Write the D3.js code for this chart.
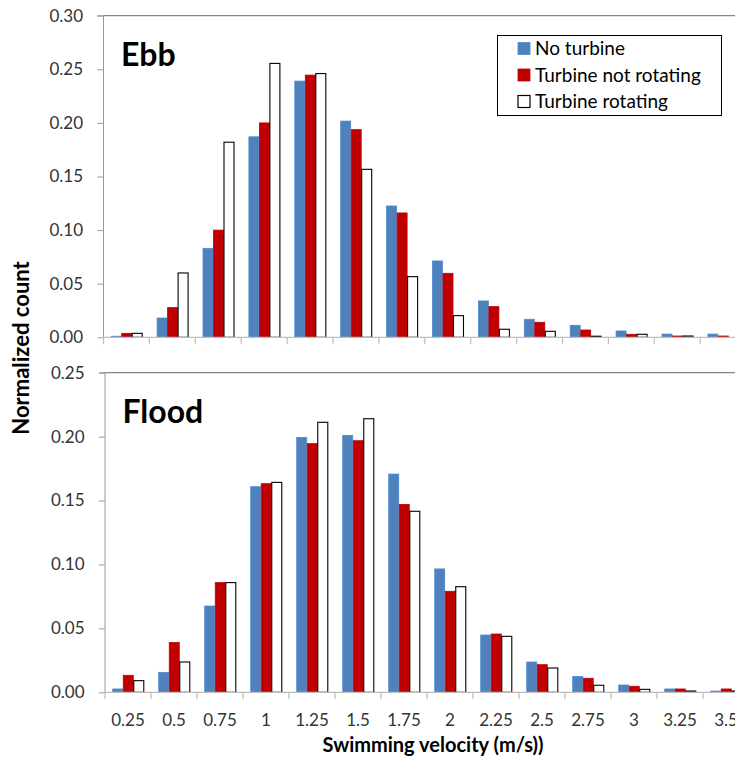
<!DOCTYPE html>
<html>
<head>
<meta charset="utf-8">
<script src="https://cdn.jsdelivr.net/npm/d3@7"></script>
<style>
  html, body { margin: 0; padding: 0; background: #fff; }
  svg { display: block; font-family: Lato, "Open Sans", sans-serif; }
</style>
</head>
<body>
<svg id="chart" width="735" height="766"></svg>
<script>
const categories = ["0.25","0.5","0.75","1","1.25","1.5","1.75","2","2.25","2.5","2.75","3","3.25","3.5"];
const seriesNames = ["No turbine","Turbine not rotating","Turbine rotating"];

const ebbNoTurbine   = [0.001,0.018,0.083,0.187,0.239,0.2017,0.1225,0.0712,0.0339,0.0168,0.0112,0.0059,0.003,0.003];
const ebbNotRotating = [0.0037,0.0277,0.100,0.200,0.2446,0.1937,0.116,0.0597,0.0286,0.014,0.0068,0.0028,0.0012,0.0012];
const ebbRotating    = [0.0037,0.060,0.182,0.2555,0.246,0.1567,0.0566,0.0202,0.0075,0.0056,0.001,0.0028,0.0012,0];

const floodNoTurbine   = [0.0026,0.0156,0.0675,0.1608,0.1994,0.201,0.1707,0.0965,0.0448,0.0237,0.0123,0.0057,0.0026,0.001];
const floodNotRotating = [0.0133,0.039,0.0858,0.1632,0.1945,0.1968,0.147,0.079,0.0456,0.0216,0.011,0.0047,0.0026,0.0026];
const floodRotating    = [0.0091,0.0237,0.0858,0.1642,0.2112,0.214,0.1416,0.0826,0.0438,0.019,0.0055,0.0023,0.001,0.001];

const ebbTicks = [0,0.05,0.10,0.15,0.20,0.25,0.30];
const floodTicks = [0,0.05,0.10,0.15,0.20,0.25];

const colors = ["#4F81BD","#C00000","#FFFFFF"];
const strokes = ["#4A8AD0","#C00000","#000000"];

const svg = d3.select("#chart");

function panel(opts) {
  const {left, top, bottom, step, yMax, ticks, data, label, labelPos, showXLabels} = opts;
  const g = svg.append("g");
  const x0 = d3.scaleBand().domain(categories).range([left, left + step*categories.length]).paddingInner(0).paddingOuter(0);
  const x1 = d3.scaleBand().domain(seriesNames).range([0, x0.bandwidth()]).paddingInner(0).paddingOuter(0.686);
  const y = d3.scaleLinear().domain([0, yMax]).range([bottom, top]);

  // top border
  g.append("line").attr("x1", left).attr("x2", 735).attr("y1", top).attr("y2", top)
    .attr("stroke", "#868686").attr("stroke-width", 1.3);

  // bars
  seriesNames.forEach((s, si) => {
    g.append("g").selectAll("rect").data(data[si]).join("rect")
      .attr("x", (d, i) => x0(categories[i]) + x1(s) + 0.5)
      .attr("y", d => y(d))
      .attr("width", x1.bandwidth() - 0.5)
      .attr("height", d => Math.max(0, bottom - y(d)))
      .attr("fill", colors[si])
      .attr("stroke", d => d > 0 ? strokes[si] : "none")
      .attr("stroke-width", si === 2 ? 1.1 : 0.8);
  });

  // y axis
  const yAxis = d3.axisLeft(y).tickValues(ticks).tickFormat(d3.format(".2f")).tickSize(6).tickPadding(14.5);
  const ya = g.append("g").attr("transform", `translate(${left},0)`).call(yAxis);
  ya.select(".domain").attr("stroke", "#9a9a9a").attr("d", `M-6,${top}H0V${bottom}`);
  ya.selectAll(".tick line").attr("stroke", "#9a9a9a");
  ya.selectAll(".tick text").attr("font-size", 17).attr("fill", "#333").attr("font-family", "Lato, sans-serif");

  // x axis
  const boundaries = d3.range(categories.length + 1).map(i => left + i*step);
  g.append("line").attr("x1", left).attr("x2", 735).attr("y1", bottom).attr("y2", bottom)
    .attr("stroke", "#bdbdbd").attr("stroke-width", 1.2);
  g.append("g").selectAll("line").data(boundaries).join("line")
    .attr("x1", d => d).attr("x2", d => d).attr("y1", bottom).attr("y2", bottom + 7)
    .attr("stroke", "#bdbdbd").attr("stroke-width", 1.2);
  if (showXLabels) {
    g.append("g").selectAll("text").data(categories).join("text")
      .attr("x", d => x0(d) + x0.bandwidth()/2)
      .attr("y", bottom + 34)
      .attr("text-anchor", "middle")
      .attr("font-size", 17).attr("fill", "#333")
      .text(d => d);
  }

  g.append("text").attr("x", labelPos[0]).attr("y", labelPos[1])
    .attr("font-size", 32).attr("font-weight", "bold").attr("fill", "#000").text(label);
}

panel({left: 103.5, top: 15.7, bottom: 337.3, step: 45.9, yMax: 0.30, ticks: ebbTicks,
       data: [ebbNoTurbine, ebbNotRotating, ebbRotating], label: "Ebb", labelPos: [121, 65.5], showXLabels: false});
panel({left: 105, top: 372.7, bottom: 692.3, step: 46, yMax: 0.25, ticks: floodTicks,
       data: [floodNoTurbine, floodNotRotating, floodRotating], label: "Flood", labelPos: [122.5, 423], showXLabels: true});

// y title
svg.append("text").attr("transform", "translate(29,348) rotate(-90)")
  .attr("text-anchor", "middle").attr("font-size", 22).attr("font-weight", "bold").attr("fill", "#000")
  .text("Normalized count");

// x title
svg.append("text").attr("x", 433).attr("y", 752)
  .attr("text-anchor", "middle").attr("font-size", 20).attr("font-weight", "bold").attr("fill", "#000")
  .text("Swimming velocity (m/s))");

// legend
const lg = svg.append("g");
lg.append("rect").attr("x", 497.5).attr("y", 35.5).attr("width", 224).attr("height", 80)
  .attr("fill", "#fff").attr("stroke", "#000").attr("stroke-width", 1);
seriesNames.forEach((s, i) => {
  const cy = 48.5 + i*26.5;
  lg.append("rect").attr("x", 518).attr("y", cy - 6).attr("width", 12).attr("height", 12)
    .attr("fill", colors[i]).attr("stroke", strokes[i]).attr("stroke-width", i === 2 ? 1.2 : 0.8);
  lg.append("text").attr("x", 535).attr("y", cy + 6.5).attr("font-size", 19).attr("fill", "#000").text(s);
});
</script>
</body>
</html>
